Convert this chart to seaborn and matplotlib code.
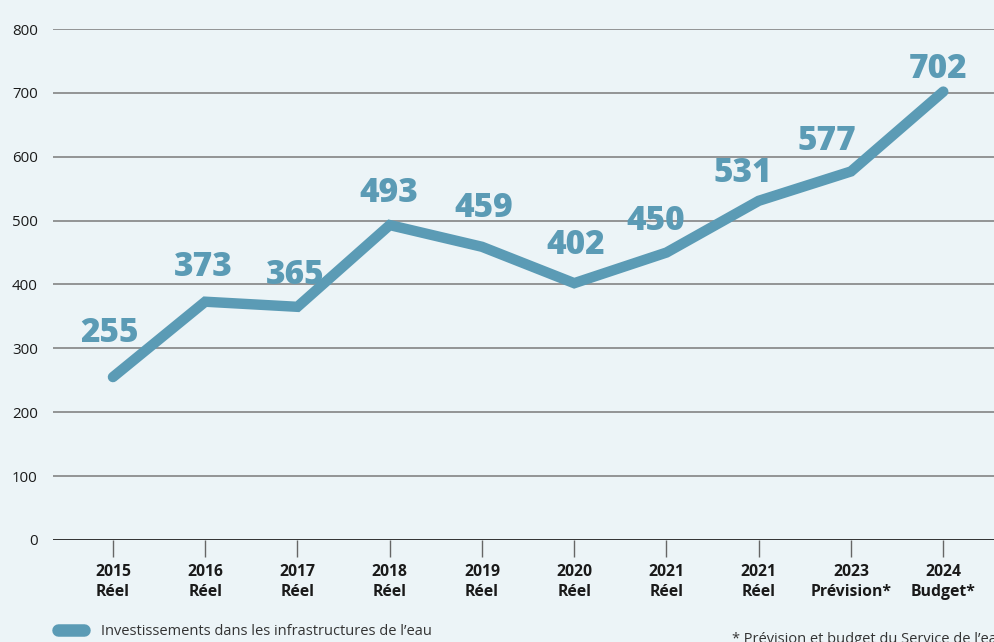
import matplotlib
matplotlib.use("Agg")
import matplotlib.pyplot as plt
import seaborn as sns
import pandas as pd

# data
years = ["2015", "2016", "2017", "2018", "2019", "2020", "2021", "2021", "2023", "2024"]
status = ["Réel", "Réel", "Réel", "Réel", "Réel", "Réel", "Réel", "Réel", "Prévision*", "Budget*"]
invest = [255, 373, 365, 493, 459, 402, 450, 531, 577, 702]
series_name = "Investissements dans les infrastructures de l\u2019eau"
footnote = "* Prévision et budget du Service de l\u2019eau"

# label nudges in pixels (layout only)
label_dx = [-3, -2, -2, -1, 2, 1, -11, -16, -24, -5]
label_dy = [44, 35, 32, 32, 39, 38, 32, 28, 30, 23]

bg = "#ecf4f7"
blue = "#5b9bb5"

sns.set_theme(style="white")
plt.rcParams["font.family"] = ["Open Sans", "DejaVu Sans"]

df = pd.DataFrame({"pos": range(len(invest)), "value": invest})

fig = plt.figure(figsize=(9.94, 6.42), dpi=100, facecolor=bg)
ax = fig.add_axes([0.0533, 0.159, 0.9467, 0.7958])
ax.set_facecolor(bg)

# gridlines
for v in range(100, 801, 100):
    ax.axhline(v, color="#7a7a7a", lw=1.1, zorder=1)
ax.axhline(0, color="#222222", lw=1.3, zorder=1)

sns.lineplot(data=df, x="pos", y="value", ax=ax, color=blue, lw=7.5,
             solid_capstyle="round", solid_joinstyle="miter", label=series_name, zorder=3)

for i, (x, v) in enumerate(zip(df["pos"], df["value"])):
    ax.annotate(str(v), (x, v), xytext=(label_dx[i], label_dy[i]), textcoords="offset pixels",
                ha="center", va="center", fontsize=24, fontweight=800, color=blue, zorder=4)

ax.set_xlim(-0.65, 9.55)
ax.set_ylim(0, 800)
ax.set_yticks(range(0, 801, 100))
ax.set_xticks(list(df["pos"]))
ax.set_xticklabels([f"{y}\n{s}" for y, s in zip(years, status)], fontweight="bold",
                   fontsize=11.3, color="#1a1a1a", linespacing=1.4)
ax.tick_params(axis="y", length=0, pad=11, labelsize=10.8, labelcolor="#1a1a1a")
ax.tick_params(axis="x", length=12, width=1, color="#666666", pad=5, direction="out", bottom=True)
for s in ax.spines.values():
    s.set_visible(False)
ax.set_xlabel("")
ax.set_ylabel("")

leg = ax.legend(loc="center left", bbox_to_anchor=(0.058, 0.0156), bbox_transform=fig.transFigure,
                frameon=False, fontsize=10.5, handlelength=1.8, handletextpad=1.2,
                borderpad=0, borderaxespad=0)
for h in leg.get_lines():
    h.set_linewidth(9)
    h.set_solid_capstyle("round")
for t in leg.get_texts():
    t.set_color("#333333")

fig.text(0.736, -0.008, footnote, fontsize=10.5, color="#333333", ha="left", va="bottom")

fig.savefig("out.png", dpi=100, facecolor=bg)
